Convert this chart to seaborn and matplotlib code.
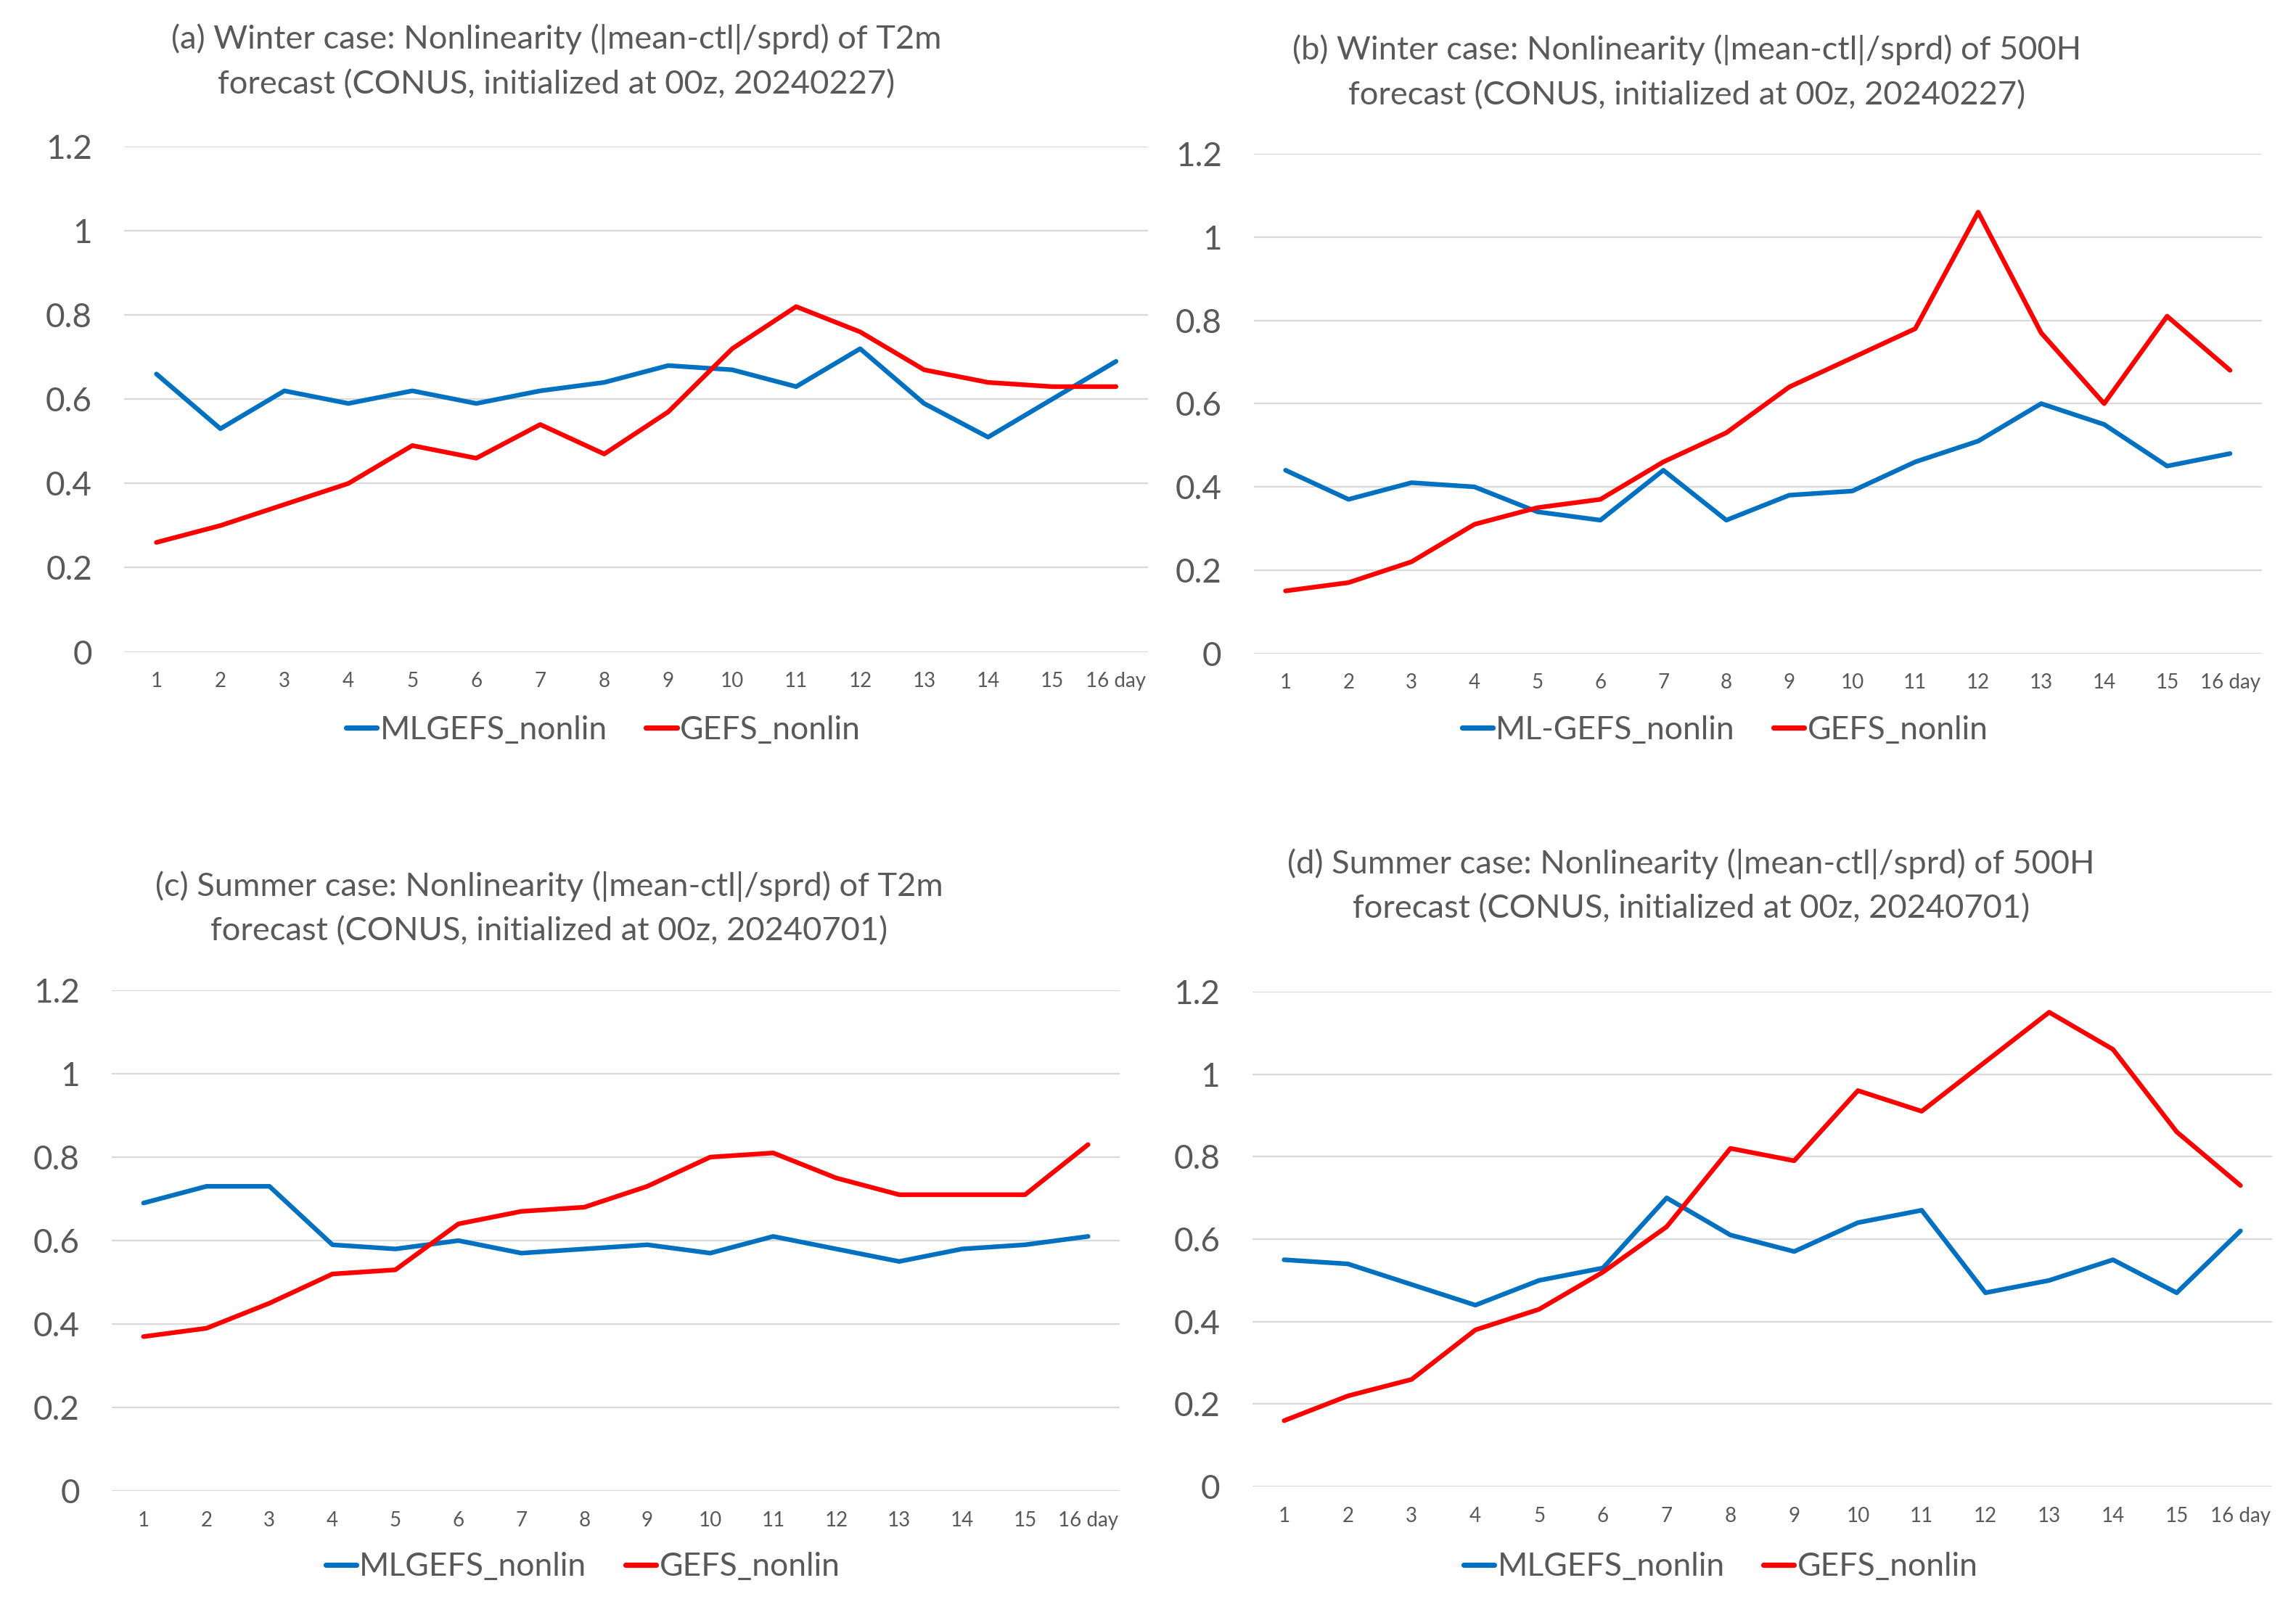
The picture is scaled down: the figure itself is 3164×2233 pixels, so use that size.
import numpy as np
import pandas as pd
import matplotlib
matplotlib.use("Agg")
import matplotlib.pyplot as plt
import seaborn as sns

days = list(range(1, 17))
day_labels = [str(d) for d in range(1, 16)] + ["16 day"]

# (a) winter T2m
a_ml = [0.66, 0.53, 0.62, 0.59, 0.62, 0.59, 0.62, 0.64, 0.68, 0.67, 0.63, 0.72, 0.59, 0.51, 0.60, 0.69]
a_gefs = [0.26, 0.30, 0.35, 0.40, 0.49, 0.46, 0.54, 0.47, 0.57, 0.72, 0.82, 0.76, 0.67, 0.64, 0.63, 0.63]
# (b) winter 500H
b_ml = [0.44, 0.37, 0.41, 0.40, 0.34, 0.32, 0.44, 0.32, 0.38, 0.39, 0.46, 0.51, 0.60, 0.55, 0.45, 0.48]
b_gefs = [0.15, 0.17, 0.22, 0.31, 0.35, 0.37, 0.46, 0.53, 0.64, 0.71, 0.78, 1.06, 0.77, 0.60, 0.81, 0.68]
# (c) summer T2m
c_ml = [0.69, 0.73, 0.73, 0.59, 0.58, 0.60, 0.57, 0.58, 0.59, 0.57, 0.61, 0.58, 0.55, 0.58, 0.59, 0.61]
c_gefs = [0.37, 0.39, 0.45, 0.52, 0.53, 0.64, 0.67, 0.68, 0.73, 0.80, 0.81, 0.75, 0.71, 0.71, 0.71, 0.83]
# (d) summer 500H
d_ml = [0.55, 0.54, 0.49, 0.44, 0.50, 0.53, 0.70, 0.61, 0.57, 0.64, 0.67, 0.47, 0.50, 0.55, 0.47, 0.62]
d_gefs = [0.16, 0.22, 0.26, 0.38, 0.43, 0.52, 0.63, 0.82, 0.79, 0.96, 0.91, 1.03, 1.15, 1.06, 0.86, 0.73]

titles = [
    "(a) Winter case: Nonlinearity (|mean-ctl|/sprd) of T2m\nforecast (CONUS, initialized at 00z, 20240227)",
    "(b) Winter case: Nonlinearity (|mean-ctl|/sprd) of 500H\nforecast (CONUS, initialized at 00z, 20240227)",
    "(c) Summer case: Nonlinearity (|mean-ctl|/sprd) of T2m\nforecast (CONUS, initialized at 00z, 20240701)",
    "(d) Summer case: Nonlinearity (|mean-ctl|/sprd) of 500H\nforecast (CONUS, initialized at 00z, 20240701)",
]
ml_names = ["MLGEFS_nonlin", "ML-GEFS_nonlin", "MLGEFS_nonlin", "MLGEFS_nonlin"]
gefs_name = "GEFS_nonlin"

sns.set_theme(style="white")
plt.rcParams['font.family'] = ['Lato', 'DejaVu Sans']

gray = "#595959"
blue = "#0070C0"
red = "#FF0000"

fig = plt.figure(figsize=(15.82, 11.165), dpi=200)

# axes boxes, title centres and legend centres in figure fractions
boxes = [
    (0.0542, 0.5976, 0.4458, 0.3119),
    (0.5462, 0.5967, 0.4388, 0.3083),
    (0.0488, 0.0796, 0.4388, 0.3092),
    (0.5454, 0.0823, 0.4443, 0.3056),
]
title_pos = [(0.2423, 0.962), (0.7347, 0.9552), (0.2392, 0.439), (0.7366, 0.453)]
legend_pos = [(0.2628, 0.5494), (0.7513, 0.5494), (0.2538, 0.0328), (0.7494, 0.0328)]

series = [(a_ml, a_gefs), (b_ml, b_gefs), (c_ml, c_gefs), (d_ml, d_gefs)]

for i in range(4):
    ml, gefs = series[i]
    df = pd.DataFrame({
        "day": days + days,
        "value": ml + gefs,
        "model": [ml_names[i]] * 16 + [gefs_name] * 16,
    })
    ax = fig.add_axes(boxes[i])
    sns.lineplot(data=df, x="day", y="value", hue="model",
                 palette={ml_names[i]: blue, gefs_name: red},
                 linewidth=2.3, ax=ax, legend=False)
    ax.set_xlim(0.5, 16.5)
    ax.set_ylim(0, 1.2)
    ax.set_yticks([0, 0.2, 0.4, 0.6, 0.8, 1.0, 1.2])
    ax.set_yticklabels(["0", "0.2", "0.4", "0.6", "0.8", "1", "1.2"])
    ax.set_xticks(days)
    ax.set_xticklabels(day_labels)
    ax.grid(axis="y", color="#D9D9D9", linewidth=0.8)
    ax.set_axisbelow(True)
    for s in ax.spines.values():
        s.set_visible(False)
    ax.tick_params(axis="y", labelsize=16.5, colors=gray, length=0, pad=16)
    ax.tick_params(axis="x", labelsize=10, colors=gray, length=0, pad=10)
    ax.set_xlabel("")
    ax.set_ylabel("")

    handles = [plt.Line2D([], [], color=blue, linewidth=2.6),
               plt.Line2D([], [], color=red, linewidth=2.6)]
    ax.legend(handles, [ml_names[i], gefs_name], loc="center",
              bbox_to_anchor=legend_pos[i], bbox_transform=fig.transFigure,
              ncol=2, frameon=False, fontsize=16, labelcolor=gray,
              handlelength=0.95, handletextpad=0.1, columnspacing=1.2)

    fig.text(title_pos[i][0], title_pos[i][1], titles[i], ha="center", va="center",
             fontsize=16.3, color=gray, multialignment="center", linespacing=1.62)

fig.savefig("out.png", dpi=200)
